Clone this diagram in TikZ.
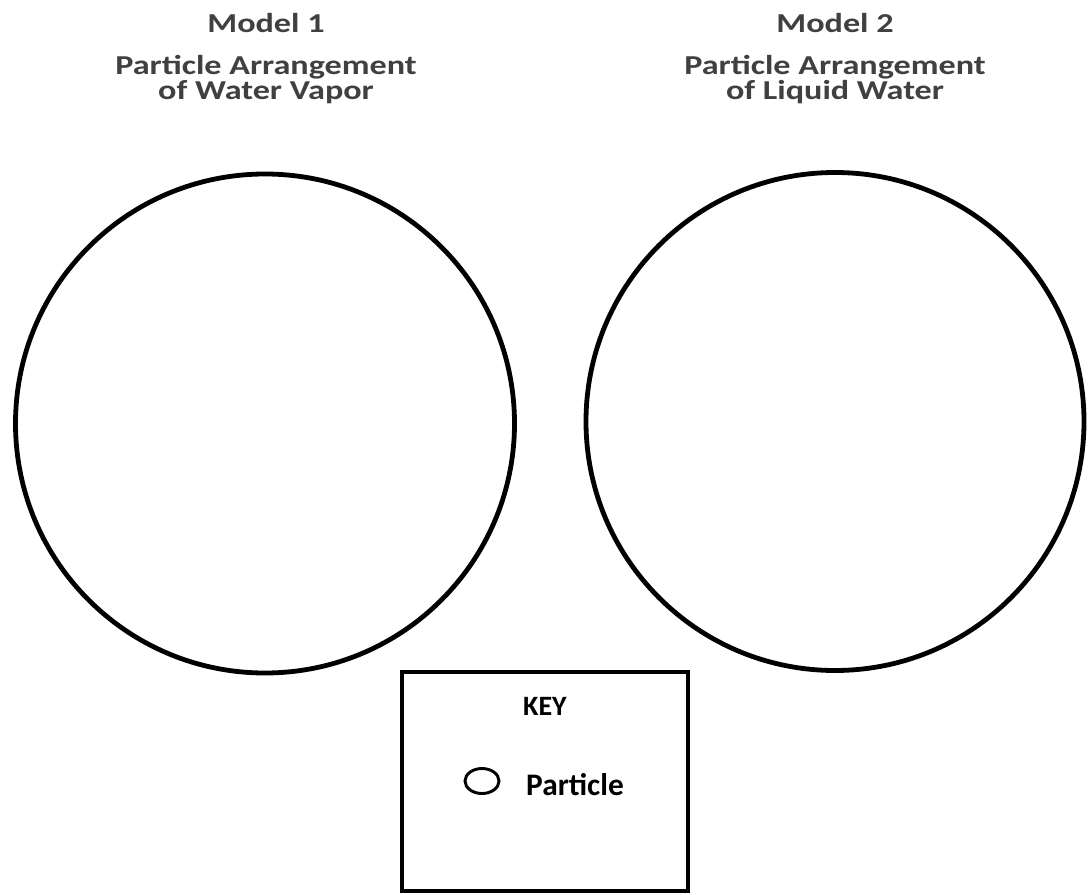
\documentclass[tikz,border=0pt]{standalone}
\usepackage{fontspec}
\setmainfont{Carlito}
\newfontfamily\titlefont[FakeStretch=1.25]{Carlito}
\definecolor{titlegray}{HTML}{404040}
\begin{document}
\begin{tikzpicture}[
        x = 0.75pt,
        y = -0.75pt,
        line width = 3.6pt,
        title/.style = {text = titlegray, font = \titlefont\bfseries\fontsize{20.5}{25}\selectfont, anchor = base, inner sep = 0pt},
        keytext/.style = {font = \bfseries\fontsize{21}{25}\selectfont, anchor = base, inner sep = 0pt}
    ]
        \useasboundingbox (0,0) rectangle (1088,895);
        % titles
        \node[title] (model1) at (266,33) {Model 1};
        \node[title] (model1a) at (266,75) {Particle Arrangement};
        \node[title] (model1b) at (266,100) {of Water Vapor};
        \node[title] (model2) at (835,33) {Model 2};
        \node[title] (model2a) at (835,75) {Particle Arrangement};
        \node[title] (model2b) at (835,100) {of Liquid Water};
        % circles
        \draw (265,423.5) circle (249.5);
        \draw (835,421.5) circle (249);
        % key
        \draw (402,672) rectangle (688,891);
        \node[keytext] (key) at (545,715) {KEY};
        \draw[line width = 2.2pt] (482,781) ellipse (17 and 12.5);
        \node[keytext, font = \bfseries\fontsize{23.5}{25}\selectfont] (particle) at (575,795) {Particle};
    \end{tikzpicture}
\end{document}
